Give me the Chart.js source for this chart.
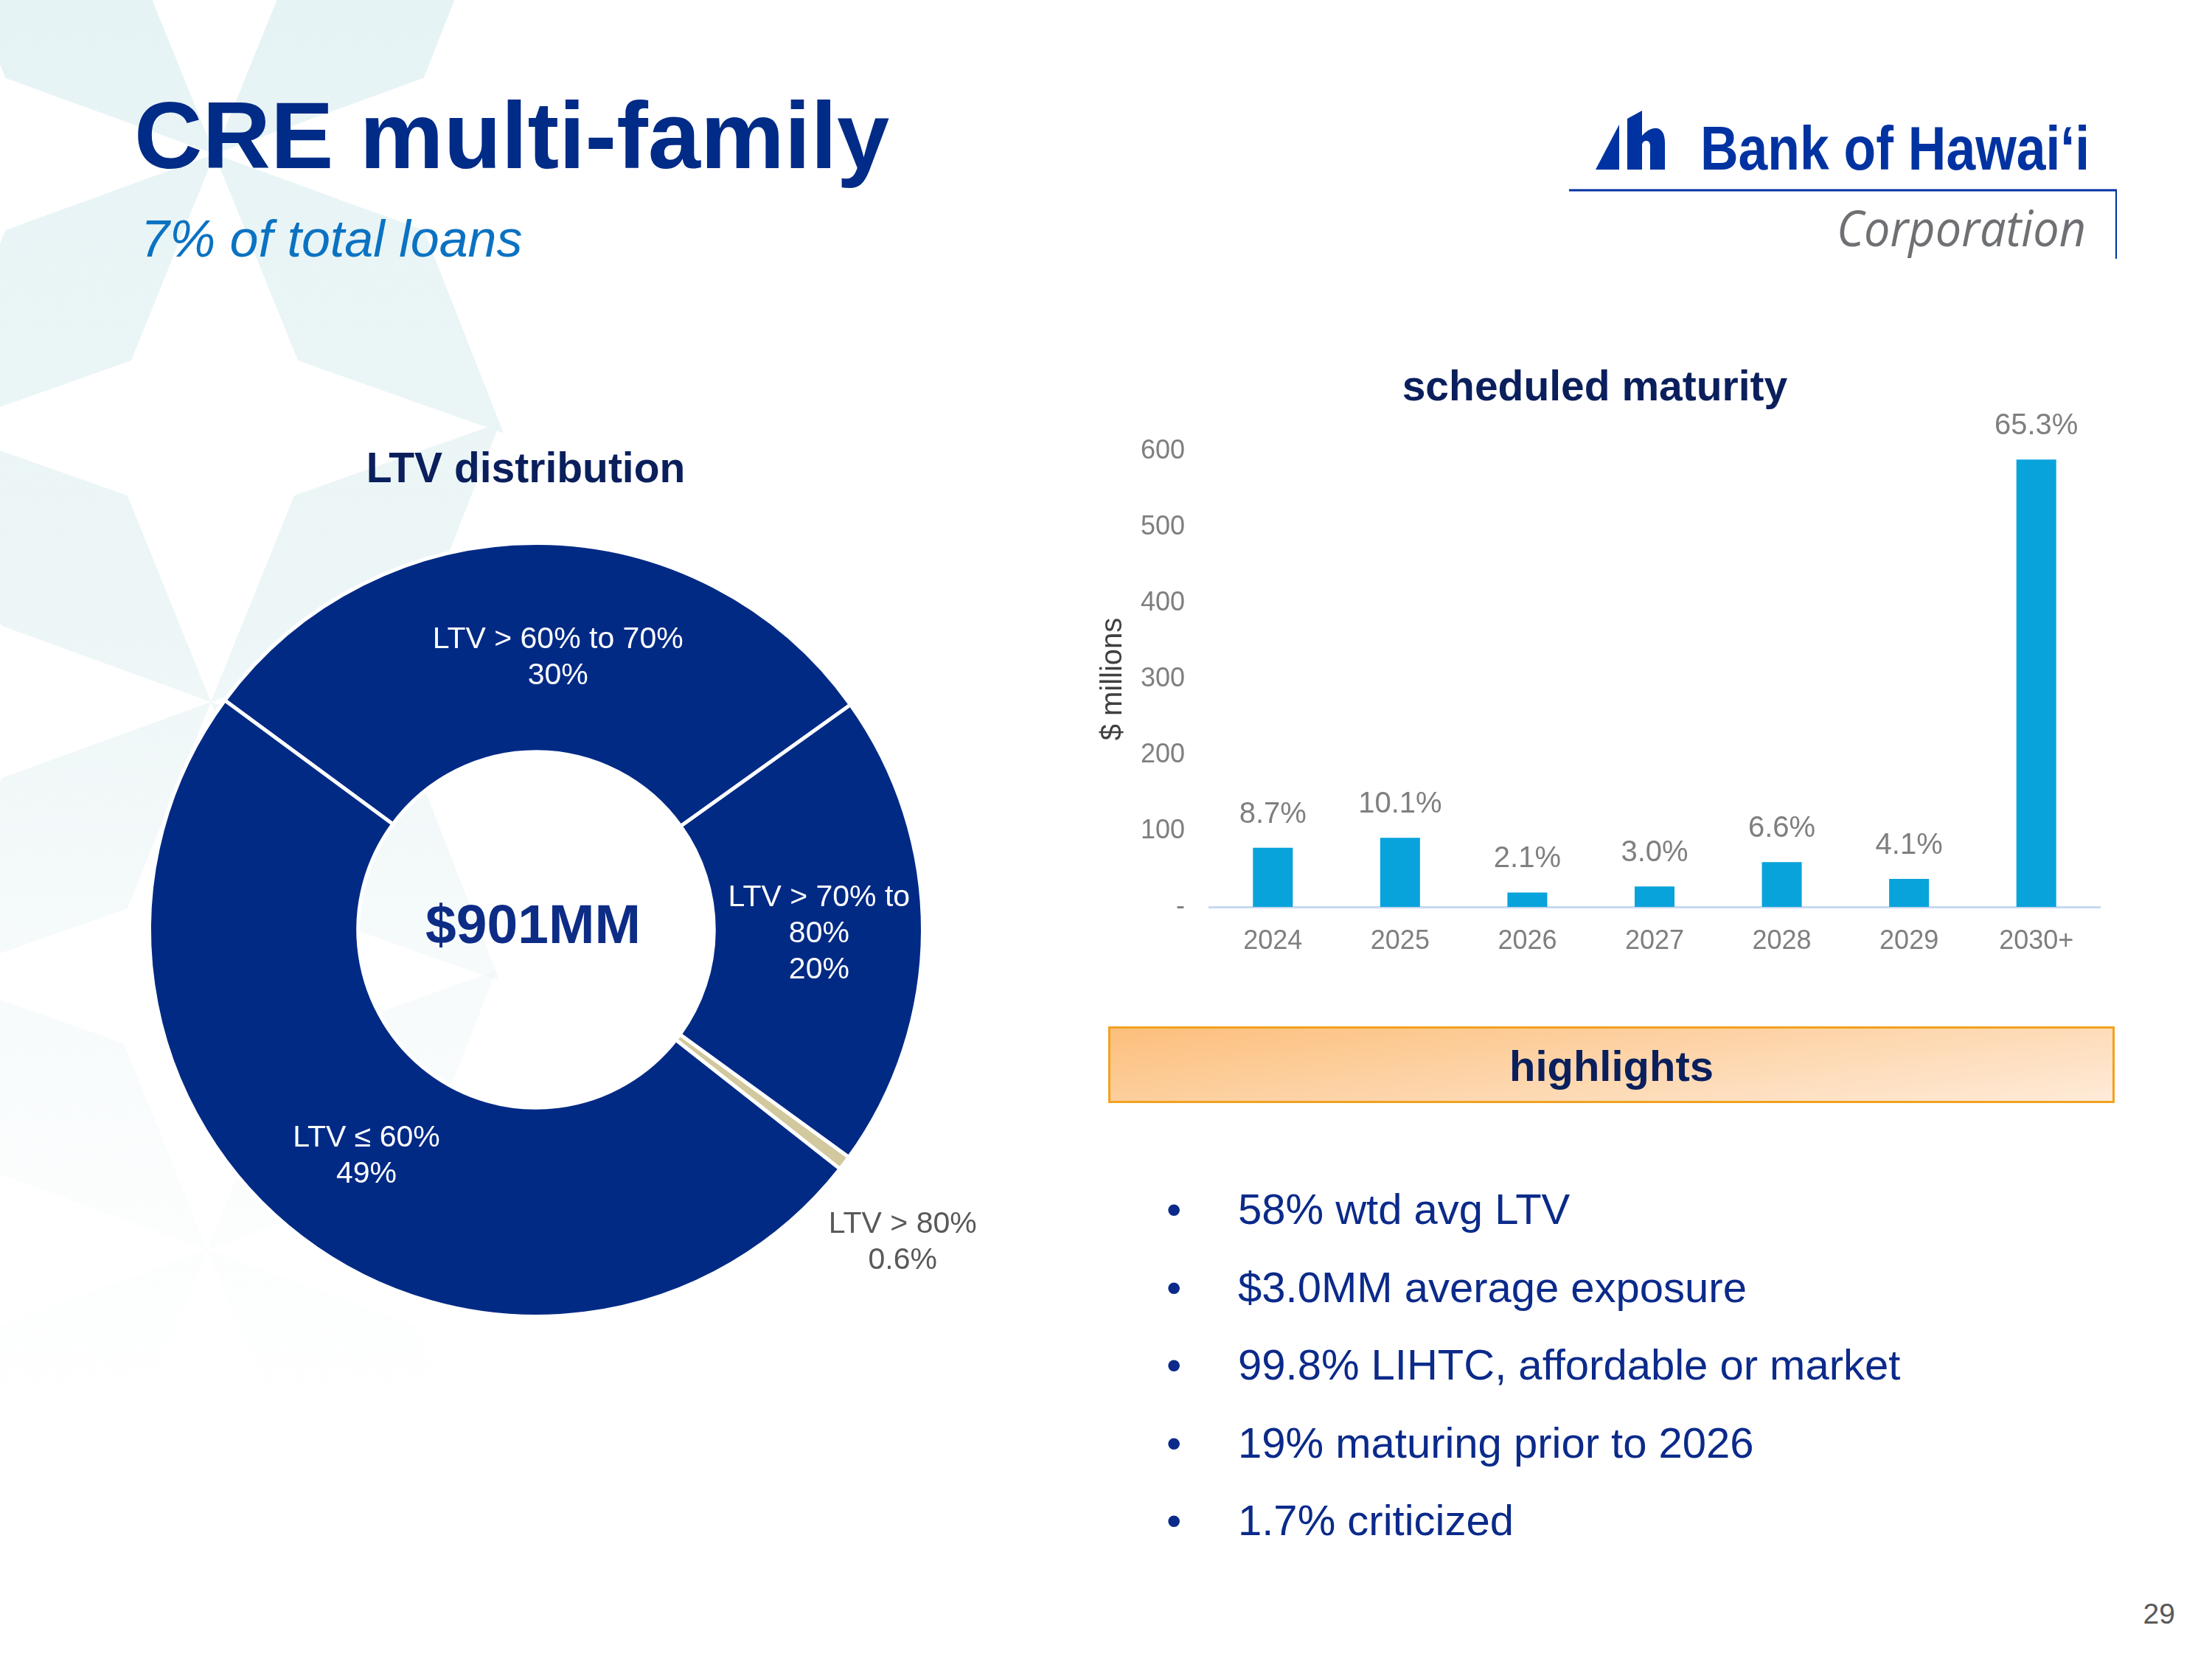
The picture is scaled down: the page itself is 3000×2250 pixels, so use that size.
<!DOCTYPE html>
<html>
<head>
<meta charset="utf-8">
<script src="https://cdn.jsdelivr.net/npm/chart.js@4.4.1/dist/chart.umd.min.js"></script>
<style>
  html, body { margin: 0; padding: 0; background: #ffffff; }
  #page { position: relative; width: 3000px; height: 2250px; overflow: hidden; background: #ffffff;
          font-family: "Liberation Sans", Arial, Helvetica, sans-serif; }
  .t { position: absolute; white-space: nowrap; line-height: 1; }
  canvas { position: absolute; }
  #hlbox { position: absolute; left: 1503px; top: 1392px; width: 1365px; height: 104px; box-sizing: border-box;
           border: 3px solid #F2A11F;
           background: linear-gradient(172deg, #FCBF7C 0%, #FDD3A6 45%, #FEE2C6 80%, #FEEBD9 100%); }
</style>
</head>
<body>
<div id="page">
  <svg id="bg" width="3000" height="2250" style="position:absolute;left:0;top:0"></svg>

  <div class="t" style="left:182px;top:120px;font-size:128px;font-weight:bold;color:#002B87;">CRE multi-family</div>
  <div class="t" style="left:191px;top:289px;font-size:70px;font-style:italic;color:#0B72C2;">7% of total loans</div>

  <svg id="logo" width="3000" height="400" style="position:absolute;left:0;top:0">
    <polygon points="2164,230 2196,169 2196,230" fill="#0033A1"/>
    <path d="M2207,161 L2227,150 L2227,184 Q2238,172 2248,174 Q2258,177 2258,194 L2258,230 L2238,230 L2238,199 Q2238,191 2233,191 Q2228,191 2227,196 L2227,230 L2207,230 Z" fill="#0033A1"/>
    <text x="2306" y="230" font-family="Liberation Sans, Arial, sans-serif" font-weight="bold" font-size="84" fill="#0033A1" textLength="528" lengthAdjust="spacingAndGlyphs">Bank of Hawai‘i</text>
    <line x1="2128" y1="258" x2="2871" y2="258" stroke="#0033A1" stroke-width="3"/>
    <line x1="2870" y1="257" x2="2870" y2="351" stroke="#0033A1" stroke-width="2"/>
    <text x="2491" y="334" font-family="Open Sans, Liberation Sans, sans-serif" font-style="italic" font-size="68" fill="#6E7073" textLength="338" lengthAdjust="spacingAndGlyphs">Corporation</text>
  </svg>

  <div class="t" style="left:213px;width:1000px;text-align:center;top:606px;font-size:57px;font-weight:bold;color:#0A1F5C;">LTV distribution</div>
  <div class="t" style="left:1663px;width:1000px;text-align:center;top:495px;font-size:57px;font-weight:bold;color:#0A1F5C;">scheduled maturity</div>

  <canvas id="donut" width="1250" height="1200" style="left:150px;top:680px;width:1250px;height:1200px;"></canvas>
  <canvas id="bars" width="1500" height="900" style="left:1450px;top:450px;width:1500px;height:900px;"></canvas>

  <div id="hlbox"></div>
  <div class="t" style="left:1503px;width:1365px;text-align:center;top:1417px;font-size:58px;font-weight:bold;color:#0A1F5C;">highlights</div>
  <div id="bullets"></div>

  <div class="t" style="right:50px;top:2169px;font-size:39px;color:#595959;">29</div>
</div>

<script>
// ---------------- data ----------------
const ltvCategories = ['LTV > 60% to 70%', 'LTV > 70% to 80%', 'LTV > 80%', 'LTV \u2264 60%'];
const ltvShares = [30.0, 19.9, 0.6, 49.5];
const ltvLabelLines = [
  ['LTV > 60% to 70%', '30%'],
  ['LTV > 70% to', '80%', '20%'],
  ['LTV > 80%', '0.6%'],
  ['LTV \u2264 60%', '49%']
];
const ltvTotalLabel = '$901MM';

const maturityYears = ['2024', '2025', '2026', '2027', '2028', '2029', '2030+'];
const maturityAmounts = [78, 91, 19, 27, 59, 37, 589];
const maturityShares = ['8.7%', '10.1%', '2.1%', '3.0%', '6.6%', '4.1%', '65.3%'];
const yTickLabels = ['-', '100', '200', '300', '400', '500', '600'];

const highlightItems = [
  '58% wtd avg LTV',
  '$3.0MM average exposure',
  '99.8% LIHTC, affordable or market',
  '19% maturing prior to 2026',
  '1.7% criticized'
];

const FONT = '"Liberation Sans", Arial, Helvetica, sans-serif';

// ---------------- background star watermark (decoration) ----------------
(function () {
  const svg = document.getElementById('bg');
  const ns = 'http://www.w3.org/2000/svg';
  const defs = document.createElementNS(ns, 'defs');
  defs.innerHTML = '<linearGradient id="fade" gradientUnits="userSpaceOnUse" x1="0" y1="0" x2="0" y2="1950">' +
    '<stop offset="0" stop-color="#E6F3F5" stop-opacity="1"/>' +
    '<stop offset="0.45" stop-color="#E9F4F5" stop-opacity="0.8"/>' +
    '<stop offset="1" stop-color="#F2F8F9" stop-opacity="0"/></linearGradient>';
  svg.appendChild(defs);
  const centres = [[291, 209], [286, 952], [281, 1695]];
  const dirs = [44, 136, 224, 316];
  const rSide = 302, rTip = 545, half = 24;
  const rad = d => d * Math.PI / 180;
  centres.forEach(c => {
    dirs.forEach(d => {
      const p = [
        c,
        [c[0] + Math.cos(rad(d - half)) * rSide, c[1] + Math.sin(rad(d - half)) * rSide],
        [c[0] + Math.cos(rad(d)) * rTip, c[1] + Math.sin(rad(d)) * rTip],
        [c[0] + Math.cos(rad(d + half)) * rSide, c[1] + Math.sin(rad(d + half)) * rSide]
      ];
      const poly = document.createElementNS(ns, 'polygon');
      poly.setAttribute('points', p.map(q => q.join(',')).join(' '));
      poly.setAttribute('fill', 'url(#fade)');
      svg.appendChild(poly);
    });
  });
})();

// ---------------- bullets ----------------
(function () {
  const host = document.getElementById('bullets');
  const baselines0 = 1660, step = 105.5;
  highlightItems.forEach((txt, i) => {
    const top = baselines0 + i * step - 49;
    const b = document.createElement('div');
    b.className = 't';
    b.style.cssText = 'left:1582px;top:' + top + 'px;font-size:58px;color:#0B2A8A;';
    b.textContent = '\u2022';
    host.appendChild(b);
    const d = document.createElement('div');
    d.className = 't';
    d.style.cssText = 'left:1679px;top:' + top + 'px;font-size:58px;color:#0B2A8A;';
    d.textContent = txt;
    host.appendChild(d);
  });
})();

// ---------------- donut ----------------
const donutLabelPlugin = {
  id: 'donutLabels',
  afterDatasetsDraw(chart, args, opts) {
    const ctx = chart.ctx;
    const meta = chart.getDatasetMeta(0);
    const values = chart.data.datasets[0].data;
    ctx.save();
    ctx.textAlign = 'center';
    ctx.textBaseline = 'middle';
    meta.data.forEach((arc, i) => {
      const p = arc.getProps(['x', 'y', 'startAngle', 'endAngle', 'innerRadius', 'outerRadius'], true);
      const mid = (p.startAngle + p.endAngle) / 2;
      const outside = values[i] < opts.outsideBelow;
      const r = outside ? p.outerRadius : (p.innerRadius + p.outerRadius) / 2;
      const n = opts.nudge[i];
      const cx = p.x + Math.cos(mid) * r + n[0];
      const cy = p.y + Math.sin(mid) * r + n[1];
      const lines = ltvLabelLines[i];
      ctx.font = opts.size + 'px ' + FONT;
      ctx.fillStyle = outside ? opts.outsideColor : opts.insideColor;
      lines.forEach((ln, k) => ctx.fillText(ln, cx, cy + (k - (lines.length - 1) / 2) * opts.lineHeight));
    });
    const a0 = meta.data[0];
    ctx.font = 'bold ' + opts.centerSize + 'px ' + FONT;
    ctx.fillStyle = opts.centerColor;
    ctx.fillText(ltvTotalLabel, a0.x - 4, a0.y - 3);
    ctx.restore();
  }
};

new Chart(document.getElementById('donut'), {
  type: 'doughnut',
  data: {
    labels: ltvCategories,
    datasets: [{
      data: ltvShares,
      backgroundColor: ['#012A85', '#012A85', '#D2C89E', '#012A85'],
      borderColor: '#ffffff',
      borderWidth: 5,
      hoverBorderWidth: 5,
      hoverOffset: 0,
      offset: 0
    }]
  },
  options: {
    responsive: false,
    animation: false,
    devicePixelRatio: 1,
    rotation: -53.6,
    cutout: '46%',
    layout: { padding: { left: 50, top: 54, right: 146, bottom: 92 } },
    events: [],
    plugins: {
      legend: { display: false },
      tooltip: { enabled: false },
      donutLabels: {
        size: 41, lineHeight: 49,
        insideColor: '#ffffff', outsideColor: '#595959',
        outsideBelow: 3,
        nudge: [[27, 14], [1, 4], [79, 108], [2, 3]],
        centerSize: 75, centerColor: '#0D2C86'
      }
    }
  },
  plugins: [donutLabelPlugin]
});

// ---------------- bars ----------------
const barLabelPlugin = {
  id: 'barShares',
  afterDatasetsDraw(chart, args, opts) {
    const ctx = chart.ctx;
    const meta = chart.getDatasetMeta(0);
    ctx.save();
    ctx.font = opts.size + 'px ' + FONT;
    ctx.fillStyle = opts.color;
    ctx.textAlign = 'center';
    ctx.textBaseline = 'middle';
    meta.data.forEach((bar, i) => ctx.fillText(maturityShares[i], bar.x, bar.y - opts.offset));
    ctx.restore();
  }
};

new Chart(document.getElementById('bars'), {
  type: 'bar',
  data: {
    labels: maturityYears,
    datasets: [{
      data: maturityAmounts,
      backgroundColor: '#09A3DB',
      barPercentage: 0.313,
      categoryPercentage: 1
    }]
  },
  options: {
    responsive: false,
    animation: false,
    devicePixelRatio: 1,
    events: [],
    layout: { padding: { left: 0, right: 102, top: 162, bottom: 0 } },
    plugins: {
      legend: { display: false },
      tooltip: { enabled: false },
      barShares: { size: 40, color: '#7F7F7F', offset: 45 }
    },
    scales: {
      x: {
        grid: { display: false, drawTicks: false },
        border: { display: true, color: '#C6D9F1', width: 3 },
        ticks: { color: '#7F7F7F', font: { size: 36, family: FONT }, padding: 25, maxRotation: 0, autoSkip: false },
        afterFit(s) { s.height = 120; }
      },
      y: {
        min: 0, max: 600,
        grid: { display: false, drawTicks: false },
        border: { display: false },
        ticks: {
          stepSize: 100, color: '#7F7F7F', font: { size: 36, family: FONT }, padding: 33,
          callback: (v, i) => yTickLabels[i]
        },
        title: { display: true, text: '$ millions', color: '#404040', font: { size: 40, family: FONT }, padding: { top: 36, bottom: 0 } },
        afterFit(s) { s.width = 190; }
      }
    }
  },
  plugins: [barLabelPlugin]
});
</script>
</body>
</html>
